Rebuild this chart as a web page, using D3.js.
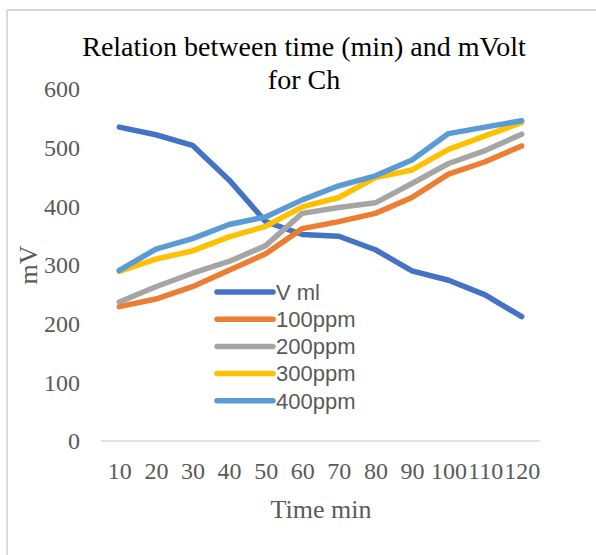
<!DOCTYPE html>
<html>
<head>
<meta charset="utf-8">
<script src="https://cdn.jsdelivr.net/npm/d3@7/dist/d3.min.js"></script>
<style>
  html, body { margin: 0; padding: 0; background: #fff; }
  svg { display: block; }
</style>
</head>
<body>
<svg id="chart" width="596" height="555"></svg>
<script>
const categories = ["10","20","30","40","50","60","70","80","90","100","110","120"];
const seriesNames = ["V ml","100ppm","200ppm","300ppm","400ppm"];
const vml    = [535, 522, 504, 445, 374, 352, 349, 326, 290, 274, 249, 212];
const ppm100 = [229, 242, 263, 291, 319, 362, 374, 388, 415, 455, 476, 503];
const ppm200 = [237, 263, 286, 306, 333, 388, 398, 406, 439, 473, 495, 523];
const ppm300 = [289, 310, 324, 348, 366, 399, 415, 449, 462, 497, 520, 543];
const ppm400 = [291, 327, 345, 369, 382, 411, 435, 452, 479, 524, 535, 546];
const yTicks = [0, 100, 200, 300, 400, 500, 600];
const colors = ["#4472C4", "#ED7D31", "#A5A5A5", "#FFC000", "#5B9BD5"];
const titleLines = ["Relation between time (min) and mVolt", "for Ch"];
const xTitle = "Time min";
const yTitle = "mV";

const seriesValues = [vml, ppm100, ppm200, ppm300, ppm400];
const series = seriesNames.map((n, i) => ({ name: n, values: seriesValues[i], color: colors[i] }));

const svg = d3.select("#chart");
const plotL = 101, plotR = 540, plotT = 89, plotB = 441;

// chart border (top & left visible)
svg.append("line").attr("x1", 7).attr("y1", 10).attr("x2", 596).attr("y2", 10)
  .attr("stroke", "#d9d9d9").attr("stroke-width", 2);
svg.append("line").attr("x1", 7).attr("y1", 10).attr("x2", 7).attr("y2", 555)
  .attr("stroke", "#d9d9d9").attr("stroke-width", 2);

const x = d3.scalePoint().domain(categories).range([plotL, plotR]).padding(0.5);
const y = d3.scaleLinear().domain([0, 600]).range([plotB, plotT]);

// baseline
svg.append("line").attr("x1", plotL).attr("x2", plotR).attr("y1", y(0)).attr("y2", y(0))
  .attr("stroke", "#d9d9d9").attr("stroke-width", 1.5);

// y axis
const yAxis = svg.append("g").attr("transform", `translate(${plotL},0)`)
  .call(d3.axisLeft(y).tickValues(yTicks).tickSize(0).tickPadding(21).tickFormat(d3.format("d")));
yAxis.select(".domain").remove();
yAxis.selectAll("text").attr("font-family", "'Liberation Serif', 'Times New Roman', serif")
  .attr("font-size", 24).attr("fill", "#595959");

// x axis
const xAxis = svg.append("g").attr("transform", `translate(0,${y(0)})`)
  .call(d3.axisBottom(x).tickSize(0).tickPadding(21));
xAxis.select(".domain").remove();
xAxis.selectAll("text").attr("font-family", "'Liberation Serif', 'Times New Roman', serif")
  .attr("font-size", 24).attr("fill", "#595959");

// lines
const line = d3.line().x((d, i) => x(categories[i])).y(d => y(d));
svg.append("g").selectAll("path").data(series).join("path")
  .attr("d", d => line(d.values))
  .attr("fill", "none").attr("stroke", d => d.color)
  .attr("stroke-width", 5.5).attr("stroke-linejoin", "round").attr("stroke-linecap", "round");

// title
const t = svg.append("text").attr("text-anchor", "middle")
  .attr("font-family", "'Liberation Serif', 'Times New Roman', serif")
  .attr("font-size", 28).attr("fill", "#000");
titleLines.forEach((s, i) => t.append("tspan").attr("x", 304).attr("y", 56 + i * 33).text(s));

// axis titles
svg.append("text").attr("x", 321).attr("y", 518).attr("text-anchor", "middle")
  .attr("font-family", "'Liberation Serif', 'Times New Roman', serif")
  .attr("font-size", 26).attr("fill", "#595959").text(xTitle);
svg.append("text").attr("transform", "translate(37,265) rotate(-90)").attr("text-anchor", "middle")
  .attr("font-family", "'Liberation Serif', 'Times New Roman', serif")
  .attr("font-size", 26).attr("fill", "#595959").text(yTitle);

// legend
const lg = svg.append("g").selectAll("g").data(series).join("g")
  .attr("transform", (d, i) => `translate(217,${292 + i * 27.2})`);
lg.append("line").attr("x1", 0).attr("x2", 56).attr("y1", 0).attr("y2", 0)
  .attr("stroke", d => d.color).attr("stroke-width", 5.5).attr("stroke-linecap", "round");
lg.append("text").attr("x", 59).attr("y", 0).attr("dy", "0.35em")
  .attr("font-family", "'Liberation Sans', Arial, sans-serif")
  .attr("font-size", 22).attr("fill", "#595959").text(d => d.name);
</script>
</body>
</html>
